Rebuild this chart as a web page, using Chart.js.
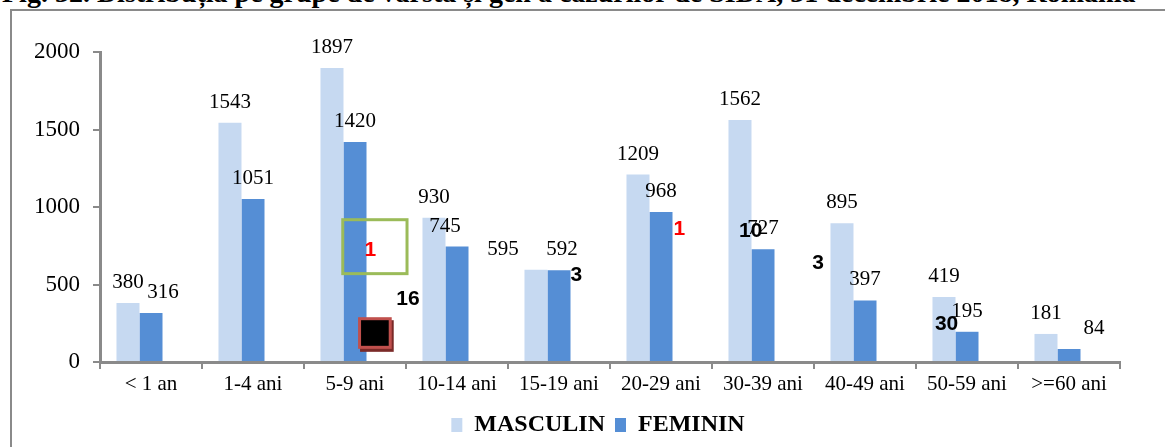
<!DOCTYPE html>
<html>
<head>
<meta charset="utf-8">
<script src="https://cdn.jsdelivr.net/npm/chart.js@4"></script>
<style>
  body { margin: 0; background: #fff; overflow: hidden; }
  #titlu { position: absolute; left: 2px; top: -23px; font: bold 28px "Liberation Serif", serif; white-space: nowrap; color: #000; }
  #cadru { position: absolute; left: 10px; top: 9px; width: 1200px; height: 500px; border: 2px solid #8a8a8a; }
  #zona { position: absolute; left: 0; top: 0; width: 1165px; height: 447px; }
</style>
</head>
<body>
<div id="titlu">Fig. 32. Distribuția pe grupe de vârstă și gen a cazurilor de SIDA, 31 decembrie 2018, România</div>
<div id="cadru"></div>
<div id="zona"><canvas id="chartSida" width="1165" height="447"></canvas></div>
<script>
const grupe = ["< 1 an", "1-4 ani", "5-9 ani", "10-14 ani", "15-19 ani", "20-29 ani", "30-39 ani", "40-49 ani", "50-59 ani", ">=60 ani"];
const masculin = [380, 1543, 1897, 930, 595, 1209, 1562, 895, 419, 181];
const feminin = [316, 1051, 1420, 745, 592, 968, 727, 397, 195, 84];
const yTicks = [0, 500, 1000, 1500, 2000];

// cateva etichete mutate de mana in original ("serie-index": px)
const mutareEticheta = { "1-0": 12, "0-4": -33, "1-4": 3, "1-3": -12, "1-9": 25 };

// textele lipite peste grafic in imaginea originala (categorie + decalaj, valoare)
const notite = [
    { text: "1", cat: 2.15, val: 721, color: "#ff0000" },
    { text: "16", cat: 2.52, val: 407, color: "#000" },
    { text: "3", cat: 4.17, val: 557, color: "#000" },
    { text: "1", cat: 5.18, val: 859, color: "#ff0000" },
    { text: "10", cat: 5.88, val: 846, color: "#000" },
    { text: "3", cat: 6.54, val: 636, color: "#000" },
    { text: "30", cat: 7.8, val: 243, color: "#000" }
];

const serif = "'Liberation Serif', 'Times New Roman', serif";

// etichete cu valori deasupra barelor + adnotari
const eticheteValori = {
    id: "eticheteValori",
    afterDatasetsDraw(chart) {
        const ctx = chart.ctx;
        ctx.save();
        ctx.font = "21px " + serif;
        ctx.fillStyle = "#000";
        ctx.textAlign = "center";
        ctx.textBaseline = "alphabetic";
        [0, 1].forEach(i => {
            const ds = chart.data.datasets[i];
            chart.getDatasetMeta(i).data.forEach((bar, j) => {
                const dx = mutareEticheta[i + "-" + j] || 0;
                ctx.fillText(ds.data[j], bar.x + dx, bar.y - 15);
            });
        });
        const x = chart.scales.x, y = chart.scales.y;
        const px = c => x.getPixelForValue(0) + c * (x.getPixelForValue(1) - x.getPixelForValue(0));

        // chenarul verde
        ctx.strokeStyle = "#9bbb59";
        ctx.lineWidth = 3;
        ctx.strokeRect(px(1.88), y.getPixelForValue(918), px(2.51) - px(1.88), y.getPixelForValue(570) - y.getPixelForValue(918));
        // patratul negru cu margine rosie
        const l = px(2.03), t = y.getPixelForValue(289), w = px(2.36) - px(2.03), h = y.getPixelForValue(85) - t;
        ctx.fillStyle = "#7a2a28";
        ctx.fillRect(l + 2, t + 3, w, h);
        ctx.fillStyle = "#c0504d";
        ctx.fillRect(l, t, w, h);
        ctx.fillStyle = "#000";
        ctx.fillRect(l + 3, t + 3, w - 6, h - 6);

        ctx.font = "bold 21px 'Liberation Sans', Arial, sans-serif";
        ctx.textBaseline = "middle";
        notite.forEach(n => {
            ctx.fillStyle = n.color;
            ctx.fillText(n.text, px(n.cat), y.getPixelForValue(n.val));
        });
        ctx.restore();
    }
};

// legenda e centrata mai la dreapta in original
const mutaLegenda = {
    id: "mutaLegenda",
    afterLayout(chart) {
        chart.legend.left += 76;
        chart.legend.right += 0;
    }
};

new Chart(document.getElementById("chartSida"), {
    type: "bar",
    data: {
        labels: grupe,
        datasets: [{
            label: "MASCULIN",
            data: masculin,
            backgroundColor: "#c6d9f1",
            barPercentage: 1,
            categoryPercentage: 0.677
        }, {
            label: "FEMININ",
            data: feminin,
            backgroundColor: "#558ed5",
            barPercentage: 1,
            categoryPercentage: 0.677
        }, {
            // loc gol: grupul de bare e deplasat spre stanga ca in original
            label: "",
            data: [],
            backgroundColor: "rgba(0,0,0,0)",
            barPercentage: 1,
            categoryPercentage: 0.677
        }]
    },
    options: {
        responsive: false,
        animation: false,
        layout: { padding: { top: 52, right: 45, left: 0, bottom: 0 } },
        plugins: {
            legend: {
                position: "bottom",
                labels: {
                    color: "#000",
                    font: { family: serif, size: 24, weight: "bold" },
                    boxWidth: 11,
                    boxHeight: 14,
                    padding: 10,
                    filter: item => item.text !== ""
                }
            },
            tooltip: { enabled: false }
        },
        scales: {
            x: {
                grid: { drawOnChartArea: false, drawTicks: true, tickLength: 7, color: "#8a8a8a", lineWidth: 2 },
                border: { color: "#8a8a8a", width: 3 },
                ticks: { color: "#000", font: { family: serif, size: 21 }, padding: 3, maxRotation: 0 },
                afterFit: s => { s.height = 41; }
            },
            y: {
                min: 0,
                max: 2000,
                afterBuildTicks: s => { s.ticks = yTicks.map(v => ({ value: v })); },
                grid: { drawOnChartArea: false, drawTicks: true, tickLength: 7, color: "#8a8a8a", lineWidth: 2 },
                border: { color: "#8a8a8a", width: 3 },
                ticks: { color: "#000", font: { family: serif, size: 23 }, padding: 13, callback: v => String(v) },
                afterFit: s => { s.width = 100; }
            }
        }
    },
    plugins: [eticheteValori, mutaLegenda]
});
</script>
</body>
</html>
